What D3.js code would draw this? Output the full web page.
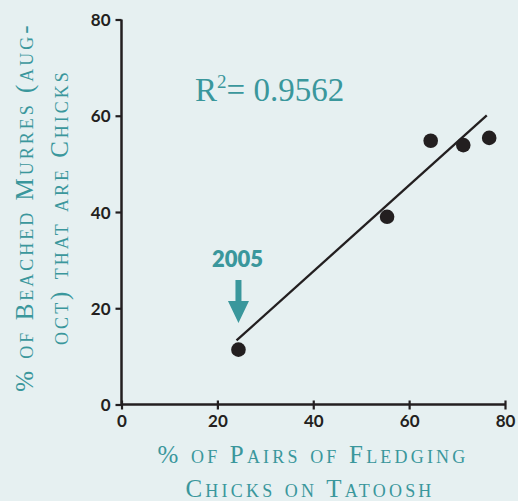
<!DOCTYPE html>
<html>
<head>
<meta charset="utf-8">
<script src="https://cdn.jsdelivr.net/npm/d3@7"></script>
<style>
  html, body { margin: 0; padding: 0; background: #e6f0f1; }
  svg { display: block; }
  .tick text { font-family: Lato, "Open Sans", sans-serif; font-weight: 700; font-size: 17px; fill: #231f20; }
</style>
</head>
<body>
<script>
// Share of Tatoosh pairs fledging chicks vs share of beached murres that are chicks
const fledgePct = [24.4, 55.4, 64.5, 71.3, 76.7];
const beachedChickPct = [11.4, 39.0, 54.8, 53.9, 55.4];
const xTicks = [0, 20, 40, 60, 80];
const yTicks = [0, 20, 40, 60, 80];
// Linear fit shown on the chart
const fitSlope = 0.896;
const fitIntercept = -8.2;
const fitRange = [24.0, 76.2];
const rSquared = "0.9562";
const highlightYear = "2005";

const W = 518, H = 501;
const teal = "#3a979c";
const ink = "#231f20";

const svg = d3.select("body").append("svg").attr("width", W).attr("height", H);
svg.append("rect").attr("width", W).attr("height", H).attr("fill", "#e6f0f1");

const x = d3.scaleLinear().domain([0, 80]).range([121.5, 505]);
const y = d3.scaleLinear().domain([0, 80]).range([404.5, 19.5]);

const xAxis = svg.append("g").attr("transform", `translate(0,${y(0)})`)
  .call(d3.axisBottom(x).tickValues(xTicks).tickSize(6).tickPadding(4));
const yAxis = svg.append("g").attr("transform", `translate(${x(0)},0)`)
  .call(d3.axisLeft(y).tickValues(yTicks).tickSize(6).tickPadding(5));
[xAxis, yAxis].forEach(g => {
  g.select(".domain").attr("stroke", ink).attr("stroke-width", 2.5).attr("d",
    g === xAxis ? `M${x(0)},0H${x(80)}` : `M0,${y(0)}V${y(80)}`);
  g.selectAll(".tick line").attr("stroke", ink).attr("stroke-width", 2.2);
});
xAxis.selectAll(".tick line").attr("y1", -4).attr("y2", 5);
yAxis.selectAll(".tick text").attr("dy", "0.36em");

// fit line
svg.append("line")
  .attr("x1", x(fitRange[0])).attr("y1", y(fitSlope * fitRange[0] + fitIntercept))
  .attr("x2", x(fitRange[1])).attr("y2", y(fitSlope * fitRange[1] + fitIntercept))
  .attr("stroke", ink).attr("stroke-width", 2.3);

// observations
svg.selectAll("circle.obs").data(fledgePct).join("circle")
  .attr("class", "obs")
  .attr("cx", d => x(d))
  .attr("cy", (d, i) => y(beachedChickPct[i]))
  .attr("r", 7.3)
  .attr("fill", ink);

// R squared
const rt = svg.append("text").attr("x", 195).attr("y", 100.5)
  .attr("font-family", "'Liberation Serif', 'Times New Roman', serif")
  .attr("font-size", 33).attr("fill", teal);
rt.append("tspan").text("R");
rt.append("tspan").attr("font-size", 19).attr("dy", -13).text("2");
rt.append("tspan").attr("dy", 13).text("= " + rSquared);

// 2005 callout
const px = x(fledgePct[0]);
svg.append("text").attr("x", px - 1).attr("y", 267)
  .attr("text-anchor", "middle")
  .attr("font-family", "Lato, 'Open Sans', sans-serif").attr("font-weight", 800)
  .attr("font-size", 22).attr("fill", teal).text(highlightYear);
svg.append("path")
  .attr("d", `M${px - 3},280 H${px + 3} V301 H${px + 10.5} L${px},323 L${px - 10.5},301 H${px - 3} Z`)
  .attr("fill", teal);

// axis titles
const serif = "'Liberation Serif', 'Times New Roman', serif";
const xt = svg.append("text").attr("text-anchor", "middle")
  .attr("font-family", serif).attr("font-size", 25).attr("fill", teal)
  .style("font-variant", "small-caps").attr("letter-spacing", 3.2);
xt.append("tspan").attr("x", 313).attr("y", 463).text("% of Pairs of Fledging");
xt.append("tspan").attr("x", 310).attr("y", 497).text("Chicks on Tatoosh");

const yt = svg.append("text").attr("text-anchor", "middle")
  .attr("transform", "translate(0,207) rotate(-90)")
  .attr("font-family", serif).attr("font-size", 25).attr("fill", teal)
  .style("font-variant", "small-caps").attr("letter-spacing", 3.0);
yt.append("tspan").attr("x", 0).attr("y", 33).text("% of Beached Murres (aug-");
yt.append("tspan").attr("x", 0).attr("y", 68).text("oct) that are Chicks");
</script>
</body>
</html>
